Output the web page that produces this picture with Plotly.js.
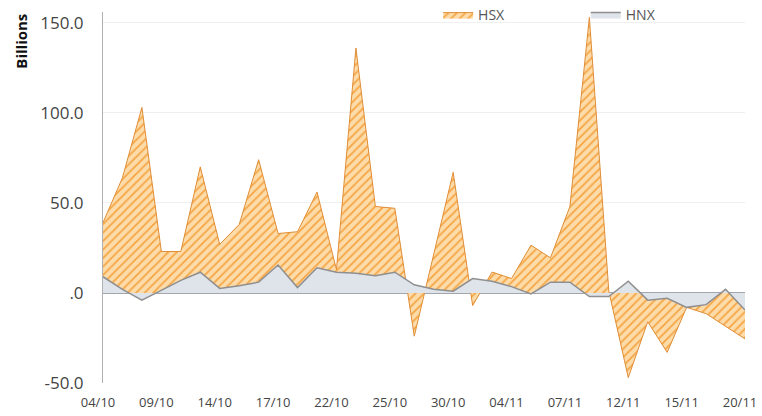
<!DOCTYPE html>
<html>
<head>
<meta charset="utf-8">
<script src="https://cdn.plot.ly/plotly-3.0.1.min.js"></script>
<style>html,body{margin:0;padding:0;background:#fff;}#chart{width:762px;height:416px;}</style>
</head>
<body>
<div id="chart"></div>
<script>
var dates = ["04/10","07/10","08/10","09/10","10/10","11/10","14/10","15/10","16/10","17/10","18/10","21/10","22/10","23/10","24/10","25/10","28/10","29/10","30/10","31/10","01/11","04/11","05/11","06/11","07/11","08/11","11/11","12/11","13/11","14/11","15/11","18/11","19/11","20/11"];
var hsx = [39, 64, 103, 23, 23, 70, 27, 38, 74, 33, 34, 56, 13, 136, 48, 47, -24, 21, 67, -7, 11.6, 8, 26.5, 19.5, 48, 153, 1, -47, -16, -33, -8, -11.5, -18.5, -25.5];
var hnx = [9, 2, -4, 1.5, 7, 11.5, 2.5, 4, 6, 15.5, 3, 14, 11.5, 11, 9.5, 11.5, 4.5, 2, 1, 8, 6.5, 3.5, -0.5, 6, 6, -2, -2, 6.5, -4, -3, -8, -6.5, 2, -9.5];
var yTickVals = [-50, 0, 50, 100, 150];
var yTickText = ["-50.0", ".0", "50.0", "100.0", "150.0"];
var xTickVals = dates.filter(function(d, i){ return i % 3 === 0; });

var traces = [
  {
    x: dates, y: hsx, name: "HSX", type: "scatter", mode: "lines",
    fill: "tozeroy", legend: "legend",
    line: {color: "#e08d35", width: 1},
    fillcolor: "#fddcaa",
    fillpattern: {shape: "/", fgcolor: "#f5a544", bgcolor: "#fddcaa", size: 6, solidity: 0.3}
  },
  {
    x: dates, y: hnx, name: "HNX", type: "scatter", mode: "lines",
    fill: "tozeroy", legend: "legend2",
    line: {color: "#8f8f8f", width: 1.5},
    fillcolor: "#dfe3ea"
  }
];

var legFont = {family: "Open Sans, sans-serif", size: 14, color: "#555"};
var layout = {
  width: 762, height: 416,
  margin: {l: 103, r: 17, t: 12, b: 33, autoexpand: false},
  paper_bgcolor: "#ffffff", plot_bgcolor: "#ffffff",
  showlegend: true,
  legend: {orientation: "h", x: 0.522, y: 1.035, xanchor: "left", yanchor: "top",
           font: legFont, itemwidth: 30, bgcolor: "rgba(0,0,0,0)"},
  legend2: {orientation: "h", x: 0.752, y: 1.035, xanchor: "left", yanchor: "top",
           font: legFont, itemwidth: 30, bgcolor: "rgba(0,0,0,0)"},
  xaxis: {
    type: "category", range: [0, 33], tickmode: "array", tickvals: xTickVals,
    showgrid: false, zeroline: false, showline: false,
    ticks: "outside", ticklen: 7, tickcolor: "rgba(0,0,0,0)",
    ticklabelshift: -5,
    tickfont: {family: "Open Sans, sans-serif", size: 13, color: "#444"}
  },
  yaxis: {
    range: [-50, 156], tickmode: "array", tickvals: yTickVals, ticktext: yTickText,
    showgrid: true, gridcolor: "#efefef", gridwidth: 1,
    zeroline: true, zerolinecolor: "#a3a7ad", zerolinewidth: 2,
    showline: true, linecolor: "#b0b0b0", linewidth: 1,
    ticks: "outside", ticklen: 15, tickcolor: "rgba(0,0,0,0)",
    tickfont: {family: "Open Sans, sans-serif", size: 17, color: "#444"}
  },
  annotations: [{
    text: "<b>Billions</b>", xref: "paper", yref: "paper", x: -0.129, y: 1.0,
    xanchor: "center", yanchor: "top", textangle: -90, showarrow: false,
    font: {family: "Open Sans, sans-serif", size: 15, color: "#111"}
  }]
};

Plotly.newPlot("chart", traces, layout, {displayModeBar: false, staticPlot: true});
</script>
</body>
</html>
